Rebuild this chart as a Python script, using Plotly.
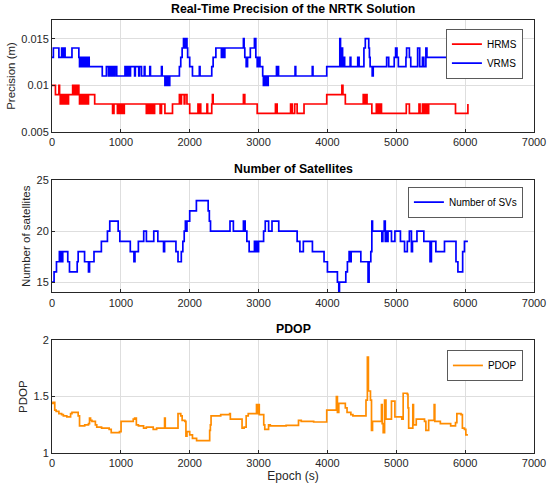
import numpy as np
import plotly.graph_objects as go
from plotly.subplots import make_subplots

# --- HRMS / VRMS (mm), step series: epoch where each value starts
hrms_t = [0, 50, 100, 110, 120, 130, 140, 150, 160, 170, 180, 190, 200, 210, 230, 240, 300, 310, 320, 340,
          350, 370, 380, 390, 400, 410, 420, 430, 440, 450, 460, 470, 480, 490, 500, 510, 520, 530, 620, 880,
          900, 950, 970, 990, 1010, 1030, 1050, 1370, 1380, 1390, 1400, 1410, 1420, 1430, 1440, 1450, 1460, 1470, 1490, 1570,
          1590, 1640, 1750, 1850, 1870, 1880, 1910, 1920, 1930, 1960, 2000, 2120, 2140, 2150, 2160, 2250, 2260, 2320, 2330, 2340,
          2780, 2800, 2980, 3245, 3270, 3465, 3490, 3525, 3560, 3660, 3990, 4210, 4225, 4260, 4520, 4535, 4560, 4575, 4645, 4710,
          4725, 4740, 4755, 4770, 4785, 5145, 5190, 5330, 5345, 5380, 5395, 5410, 5425, 5440, 5455, 5470, 5700, 5860, 6040]
hrms_v = [10, 9, 10, 9, 8, 9, 8, 9, 8, 9, 8, 9, 8, 9, 8, 9, 10, 9, 10, 9,
          10, 9, 10, 9, 8, 9, 8, 9, 8, 9, 8, 9, 8, 9, 8, 9, 8, 9, 8, 7,
          8, 7, 8, 7, 8, 7, 8, 7, 8, 7, 8, 7, 8, 7, 8, 7, 8, 7, 8, 7,
          8, 7, 8, 9, 8, 9, 9, 8, 9, 8, 7, 8, 7, 8, 7, 8, 7, 8, 9, 8,
          9, 8, 7, 8, 7, 8, 7, 8, 7, 8, 9, 10, 9, 8, 9, 8, 9, 8, 7, 8,
          7, 8, 7, 8, 7, 8, 7, 8, 7, 8, 7, 8, 7, 8, 7, 8, 8, 7, 8, 8]

vrms_t = [0, 20, 100, 140, 155, 175, 190, 290, 390, 400, 410, 420, 430, 440, 450, 460, 470, 480, 490, 500,
          510, 520, 530, 540, 730, 790, 820, 835, 860, 875, 900, 915, 940, 1060, 1070, 1080, 1090, 1100, 1110, 1120,
          1130, 1140, 1200, 1210, 1260, 1270, 1300, 1340, 1350, 1420, 1430, 1590, 1600, 1640, 1650, 1660, 1670, 1680, 1690, 1700,
          1710, 1850, 1870, 1890, 1910, 1920, 1930, 1940, 1950, 1960, 1970, 2000, 2040, 2140, 2150, 2320, 2340, 2380, 2460, 2470,
          2480, 2490, 2500, 2510, 2780, 2790, 2800, 2820, 2840, 2880, 2940, 2960, 2980, 2990, 3000, 3010, 3020, 3060, 3070, 3080,
          3090, 3100, 3110, 3120, 3130, 3140, 3260, 3270, 3280, 3290, 3530, 3540, 3780, 3790, 3990, 4180, 4190, 4210, 4220, 4240,
          4250, 4330, 4340, 4440, 4460, 4530, 4550, 4600, 4610, 4620, 4650, 4665, 4860, 4890, 4970, 4990, 5010, 5030, 5140, 5150,
          5190, 5210, 5310, 5340, 5380, 5400, 5430, 5445, 6040]
vrms_v = [13, 14, 13, 14, 13, 14, 13, 14, 13, 12, 13, 12, 13, 12, 13, 12, 13, 12, 13, 12,
          13, 12, 13, 12, 11, 12, 11, 12, 11, 12, 11, 12, 11, 12, 11, 12, 11, 12, 11, 12,
          11, 12, 11, 12, 11, 12, 11, 12, 11, 12, 11, 12, 11, 10, 11, 10, 11, 10, 11, 10,
          11, 12, 13, 14, 15, 14, 15, 14, 15, 14, 13, 12, 11, 12, 11, 12, 13, 14, 13, 14,
          13, 14, 13, 14, 15, 14, 13, 12, 13, 14, 15, 13, 12, 13, 12, 13, 12, 11, 10, 11,
          10, 11, 10, 11, 10, 11, 12, 11, 12, 11, 12, 11, 12, 11, 12, 15, 12, 14, 12, 13,
          12, 13, 12, 13, 12, 14, 15, 14, 13, 12, 11, 12, 13, 12, 13, 14, 13, 12, 13, 14,
          13, 12, 14, 12, 13, 12, 14, 13, 13]

# --- Number of satellites
sv_t = [0, 30, 65, 107, 131, 156, 229, 254, 366, 380, 473, 530, 545, 610, 717, 805, 839, 961, 985, 1137,
        1190, 1205, 1254, 1332, 1371, 1478, 1537, 1620, 1635, 1800, 1830, 1878, 1900, 1920, 1937, 1950, 1960, 2000, 2097, 2268,
        2285, 2302, 2585, 2634, 2780, 2805, 2830, 2863, 2940, 2955, 2965, 2975, 3000, 3073, 3097, 3146, 3195, 3293, 3560, 3600,
        3650, 3782, 3951, 4000, 4145, 4165, 4175, 4267, 4290, 4315, 4330, 4345, 4485, 4590, 4605, 4630, 4645, 4655, 4790, 4805,
        4825, 4840, 4850, 4865, 4880, 4930, 4980, 5060, 5120, 5160, 5190, 5220, 5235, 5300, 5400, 5490, 5510, 5575, 5700, 5867,
        5895, 5916, 5964, 5990, 6040]
sv_v = [15, 16, 17, 18, 17, 18, 17, 16, 17, 18, 17, 16, 17, 18, 19, 20, 21, 20, 19, 18,
        17, 18, 19, 20, 19, 20, 19, 18, 19, 18, 17, 18, 19, 20, 21, 20, 21, 22, 23, 22,
        21, 20, 21, 20, 21, 20, 19, 18, 19, 18, 19, 18, 19, 20, 21, 20, 21, 20, 19, 18,
        19, 18, 17, 16, 15, 14, 15, 16, 17, 18, 17, 18, 17, 15, 17, 18, 21, 20, 19, 20,
        21, 19, 20, 19, 20, 19, 20, 19, 18, 19, 20, 18, 19, 20, 19, 17, 19, 18, 19, 17,
        16, 16, 18, 19, 19]

# --- PDOP
pdop_t = [0, 15, 40, 60, 100, 140, 165, 215, 270, 290, 380, 400, 475, 530, 545, 560, 580, 630, 650, 720,
          830, 860, 980, 1003, 1180, 1200, 1225, 1255, 1330, 1370, 1470, 1520, 1635, 1645, 1830, 1870, 1890, 1930, 1945, 1960,
          2000, 2040, 2100, 2290, 2300, 2310, 2450, 2580, 2590, 2760, 2790, 2820, 2850, 2970, 2980, 3000, 3010, 3075, 3090, 3145,
          3170, 3400, 3580, 3620, 3800, 3990, 4130, 4145, 4165, 4260, 4285, 4340, 4370, 4560, 4580, 4595, 4625, 4640, 4655, 4785,
          4795, 4810, 4830, 4850, 4930, 4980, 5080, 5100, 5160, 5170, 5180, 5240, 5250, 5290, 5410, 5430, 5470, 5550, 5560, 5640,
          5790, 5860, 5880, 5940, 5960, 5990, 6010, 6040]
pdop_v = [1.44, 1.45, 1.38, 1.37, 1.35, 1.34, 1.33, 1.32, 1.35, 1.36, 1.33, 1.24, 1.25, 1.26, 1.31, 1.29, 1.28, 1.25, 1.23, 1.22,
          1.21, 1.18, 1.19, 1.28, 1.30, 1.31, 1.25, 1.24, 1.22, 1.23, 1.21, 1.22, 1.31, 1.22, 1.35, 1.33, 1.29, 1.28, 1.15, 1.19,
          1.16, 1.13, 1.11, 1.20, 1.25, 1.33, 1.34, 1.35, 1.30, 1.22, 1.23, 1.33, 1.35, 1.43, 1.35, 1.43, 1.34, 1.25, 1.21, 1.25,
          1.24, 1.245, 1.29, 1.28, 1.275, 1.38, 1.50, 1.36, 1.44, 1.40, 1.36, 1.34, 1.33, 1.47, 1.85, 1.55, 1.47, 1.20, 1.28, 1.43,
          1.26, 1.18, 1.47, 1.30, 1.46, 1.32, 1.30, 1.53, 1.52, 1.40, 1.22, 1.43, 1.25, 1.30, 1.28, 1.20, 1.29, 1.43, 1.28, 1.26,
          1.24, 1.27, 1.35, 1.34, 1.22, 1.21, 1.16, 1.16]

hrms_m = np.array(hrms_v) / 1000.0
vrms_m = np.array(vrms_v) / 1000.0

FONT = "Liberation Sans, Arial, sans-serif"
GRID = "#dedede"
FRAME = "#262626"

fig = make_subplots(rows=3, cols=1)

fig.add_trace(go.Scatter(x=hrms_t, y=hrms_m, mode="lines", line_shape="hv", name="HRMS",
                         line=dict(color="#ff0000", width=1.7), legend="legend"), row=1, col=1)
fig.add_trace(go.Scatter(x=vrms_t, y=vrms_m, mode="lines", line_shape="hv", name="VRMS",
                         line=dict(color="#0000ff", width=1.7), legend="legend"), row=1, col=1)
fig.add_trace(go.Scatter(x=sv_t, y=sv_v, mode="lines", line_shape="hv", name="Number of SVs",
                         line=dict(color="#0000ff", width=1.7), legend="legend2"), row=2, col=1)
fig.add_trace(go.Scatter(x=pdop_t, y=pdop_v, mode="lines", line_shape="hv", name="PDOP",
                         line=dict(color="#ff8c00", width=1.7), legend="legend3"), row=3, col=1)

domains = [[0.7413, 1.0], [0.3711, 0.6298], [0.0, 0.2603]]
yranges = [[0.005, 0.017], [14, 25], [1, 2]]
yticks = [[0.005, 0.01, 0.015], [15, 20, 25], [1, 1.5, 2]]
yticktext = [["0.005", "0.01", "0.015"], ["15", "20", "25"], ["1", "1.5", "2"]]
ytitles = ["Precision (m)", "Number of satellites", "PDOP"]
titles = ["Real-Time Precision of the NRTK Solution", "Number of Satellites", "PDOP"]

axis_common = dict(showgrid=True, gridcolor=GRID, gridwidth=1, showline=True, linecolor=FRAME,
                   linewidth=1, mirror=True, ticks="inside", ticklen=3, tickcolor=FRAME,
                   zeroline=False, automargin=False,
                   tickfont=dict(family=FONT, size=11, color="#262626"))

for i in range(3):
    fig.update_xaxes(range=[0, 7000], dtick=1000, tick0=0, **axis_common, row=i + 1, col=1)
    fig.update_yaxes(range=yranges[i], tickvals=yticks[i], ticktext=yticktext[i], domain=domains[i],
                     title=dict(text=ytitles[i], font=dict(family=FONT, size=11.5, color="#262626"), standoff=3),
                     **axis_common, row=i + 1, col=1)
    fig.add_annotation(text="<b>" + titles[i] + "</b>", xref="paper", yref="paper", x=0.5,
                       y=domains[i][1], yanchor="bottom", yshift=2, showarrow=False,
                       font=dict(family=FONT, size=12.3, color="#000000"))

fig.update_xaxes(title=dict(text="Epoch (s)", font=dict(family=FONT, size=12, color="#262626"), standoff=0),
                 row=3, col=1)

leg = dict(xref="paper", yref="paper", xanchor="right", yanchor="top", bgcolor="#ffffff",
           bordercolor="#5a5a5a", borderwidth=1, font=dict(family=FONT, size=10, color="#000000"),
           tracegroupgap=0, itemwidth=30)
fig.update_layout(
    width=550, height=492,
    margin=dict(l=52, r=16, t=20, b=39),
    paper_bgcolor="#ffffff", plot_bgcolor="#ffffff",
    showlegend=True,
    legend=dict(x=0.977, y=0.98, **leg),
    legend2=dict(x=0.977, y=0.615, **leg),
    legend3=dict(x=0.977, y=0.238, **leg),
)

# drop the default 8 px body margin so the figure sits at the window corner
fig.write_html("out.html", config={"displayModeBar": False},
               post_script="document.body.style.margin='0px';")
